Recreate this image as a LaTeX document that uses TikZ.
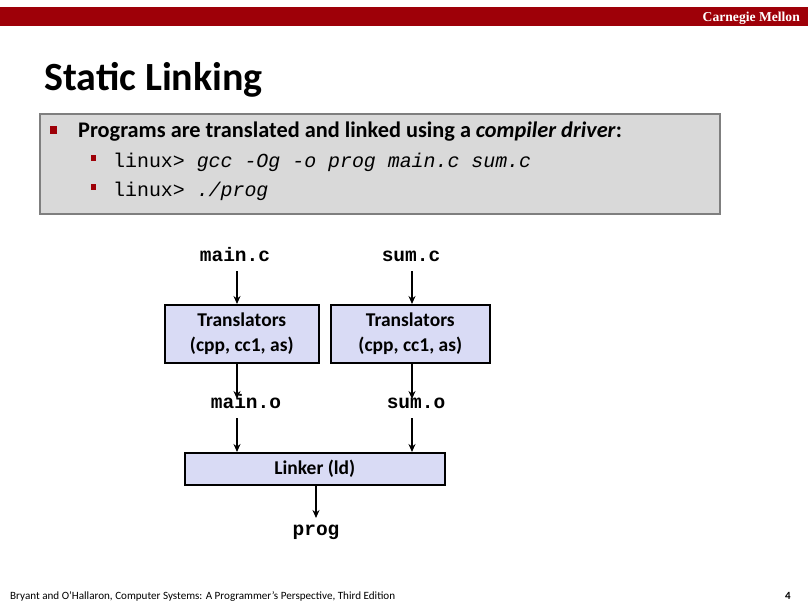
\documentclass[tikz,border=0pt]{standalone}
\usepackage{fontspec}
\setmainfont{Carlito}
\newfontfamily\monofont{Liberation Mono}
\newfontfamily\cmuserif{Liberation Serif}
\usetikzlibrary{arrows.meta}
\definecolor{cmured}{RGB}{158,0,8}
\definecolor{panelgray}{RGB}{217,217,217}
\definecolor{panelborder}{RGB}{127,127,127}
\definecolor{boxfill}{RGB}{217,219,245}
\tikzset{
  procbox/.style={draw=black, fill=boxfill, line width=1.6pt, inner sep=0pt, align=center,
    font=\bfseries\fontsize{19.5}{25}\selectfont},
  filelabel/.style={font=\monofont\bfseries\fontsize{19.5}{22}\selectfont, inner sep=0pt, anchor=base},
  flow/.style={line width=1.5pt, -{Stealth[length=8pt,width=7pt]}},
  codeline/.style={font=\monofont\fontsize{19.9}{22}\selectfont, inner sep=0pt, anchor=base west},
}
\begin{document}
\begin{tikzpicture}[x=1pt,y=-1pt]
\useasboundingbox (0,0) rectangle (808,603);
\fill[white] (0,0) rectangle (808,603);
% header bar
\fill[cmured] (0,7) rectangle (808,26);
\node[anchor=base east, text=white, inner sep=0pt, font=\cmuserif\bfseries\fontsize{13.6}{15}\selectfont] (cmu) at (800,21) {Carnegie Mellon};
% title
\node[anchor=base west, inner sep=0pt, font=\bfseries\fontsize{40}{44}\selectfont] (title) at (44,90) {Static Linking};
% panel
\node[draw=panelborder, fill=panelgray, line width=1.5pt, minimum width=680pt, minimum height=100pt, anchor=north west, inner sep=0pt] (panel) at (39,113) {};
\fill[cmured] (50,126) rectangle (57,134);
\node[anchor=base west, inner sep=0pt, font=\bfseries\fontsize{22.3}{26}\selectfont] (b1) at (78,137) {Programs are translated and linked using a \textit{compiler driver}:};
\fill[cmured] (91,155) rectangle (96,161);
\node[codeline] (c1) at (113,167) {linux> \textit{gcc -Og -o prog main.c sum.c}};
\fill[cmured] (91,184) rectangle (96,190);
\node[codeline] (c2) at (113,196) {linux> \textit{./prog}};
% diagram
\node[filelabel] (mainc) at (235,261) {main.c};
\node[filelabel] (sumc) at (411,261) {sum.c};
\node[procbox, minimum width=154pt, minimum height=58pt, anchor=north west] (t1) at (164,304) {Translators\\(cpp, cc1, as)};
\node[procbox, minimum width=159pt, minimum height=58pt, anchor=north west] (t2) at (330,304) {Translators\\(cpp, cc1, as)};
\node[filelabel] (maino) at (246,408) {main.o};
\node[filelabel] (sumo) at (416,408) {sum.o};
\node[procbox, minimum width=260pt, minimum height=32pt, anchor=north west] (linker) at (184,452) {Linker (ld)};
\node[filelabel] (prog) at (316,535) {prog};
\coordinate (mo-in) at (237,399);
\coordinate (so-in) at (412,399);
\draw[flow] (237,271) -- (t1.north -| 237,0);
\draw[flow] (412,271) -- (t2.north -| 412,0);
\draw[flow] (t1.south -| 237,0) -- (mo-in);
\draw[flow] (t2.south -| 412,0) -- (so-in);
\draw[flow] (237,418) -- (linker.north -| 237,0);
\draw[flow] (412,418) -- (linker.north -| 412,0);
\draw[flow] (linker.south -| 316,0) -- (316,518);
% footer
\node[anchor=base west, inner sep=0pt, font=\fontsize{11.1}{13}\selectfont] (foot) at (10,599) {Bryant and O’Hallaron, Computer Systems: A Programmer’s Perspective, Third Edition};
\node[anchor=base east, inner sep=0pt, font=\bfseries\fontsize{11}{13}\selectfont] (pnum) at (791,599) {4};
\end{tikzpicture}
\end{document}
